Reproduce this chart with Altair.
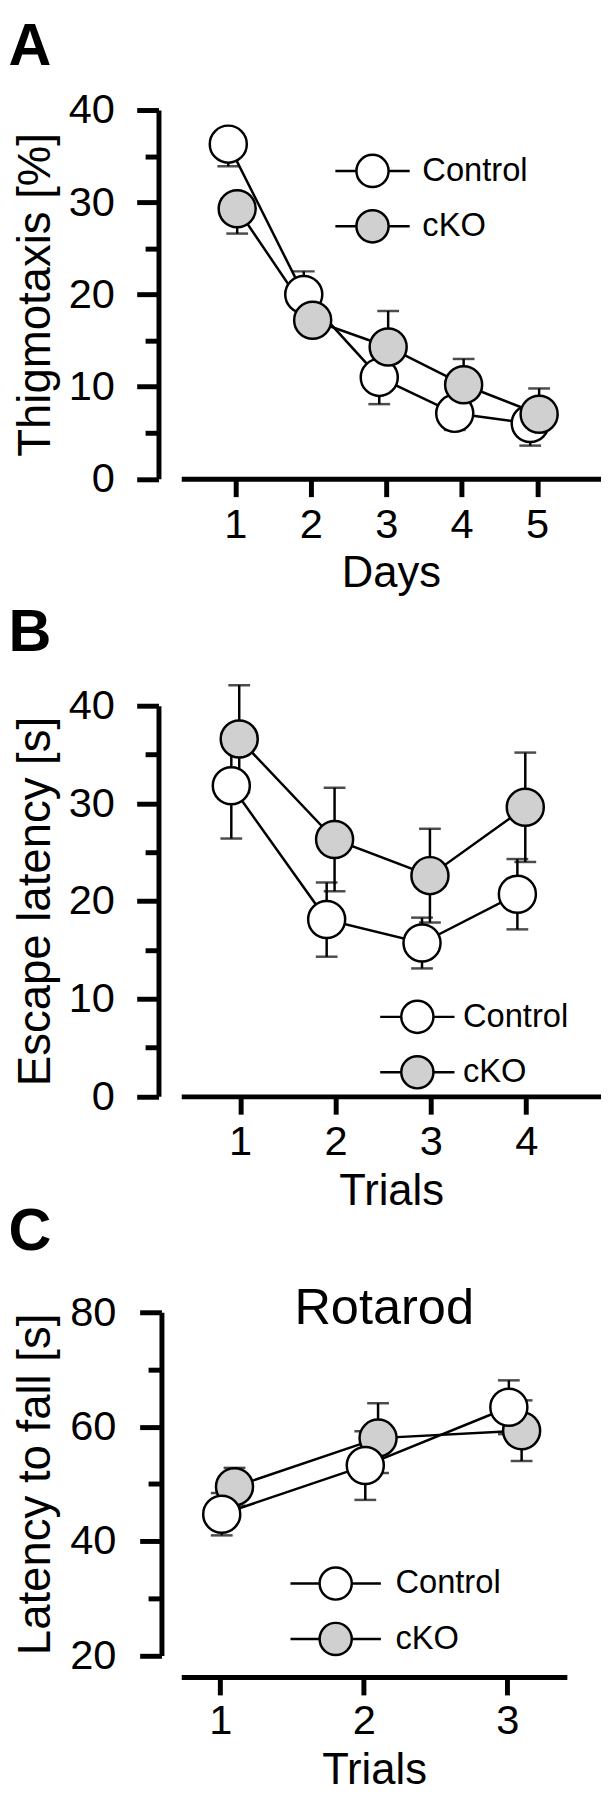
import altair as alt
import pandas as pd

FONT = "Liberation Sans"
GROUPS = ["Control", "cKO"]
FILLS = ["#ffffff", "#d0d0d0"]

# ---- Panel A: thigmotaxis over days ----
A_DAYS = [1, 2, 3, 4, 5]
A_CONTROL = [36.3, 20.0, 11.0, 7.1, 6.0]
A_CKO = [29.3, 17.2, 14.3, 10.2, 7.0]
A_CONTROL_SE = [2.4, 2.5, 2.9, 1.8, 2.4]
A_CKO_SE = [2.7, 1.6, 3.9, 2.8, 2.8]
A_CONTROL_SIDE = [-1, 1, -1, -1, -1]   # error bar drawn below (-1) / above (1)
A_CKO_SIDE = [-1, -1, 1, 1, 1]

# ---- Panel B: escape latency over trials ----
B_TRIALS = [1, 2, 3, 4]
B_CONTROL = [31.8, 18.1, 15.7, 20.7]
B_CKO = [36.6, 26.3, 22.6, 29.6]
B_CONTROL_SE = [5.4, 3.8, 2.6, 3.6]
B_CKO_SE = [5.5, 5.3, 4.8, 5.6]

# ---- Panel C: rotarod ----
C_TRIALS = [1, 2, 3]
C_CONTROL = [44.7, 53.2, 63.4]
C_CKO = [49.5, 58.0, 59.3]
C_CONTROL_SE = [3.7, 6.0, 4.7]
C_CKO_SE = [3.3, 6.1, 5.3]


def frames(xs, series, dodge, draw_order):
    pts, caps = [], []
    for g in draw_order:
        mean, se, side = series[g]
        for x, m, s, d in zip(xs, mean, se, side):
            xp = x + dodge[g]
            lo = m - s if d <= 0 else m
            hi = m + s if d >= 0 else m
            pts.append({"group": g, "x": xp, "y": m, "lo": lo, "hi": hi})
            if d <= 0:
                caps.append({"group": g, "x": xp, "y": lo})
            if d >= 0:
                caps.append({"group": g, "x": xp, "y": hi})
    return pd.DataFrame(pts), pd.DataFrame(caps)


def legend_path(half):
    return f"M{-half},0L-1,0M1,0L{half},0M-1,0A1,1,0,1,1,1,0A1,1,0,1,1,-1,0Z"


def panel(pts, caps, *, width, height, xdom, xticks, xtitle, xlp, xtp,
          ydom, yrange, yticks, major, ytitle, yoff, ylp, ytp,
          leg, letter, letter_y, headline=None):
    xs = alt.Scale(domain=xdom, nice=False, zero=False)
    ys = alt.Scale(domain=ydom, range=yrange, nice=False, zero=False)
    xaxis = alt.Axis(values=xticks, title=xtitle, tickSize=18,
                     labelBaseline="alphabetic", labelPadding=xlp,
                     labelFontSize=42, titleFontSize=44,
                     titleBaseline="alphabetic", titlePadding=xtp,
                     format="d", labelFlush=False, labelOverlap=False)
    yaxis = alt.Axis(values=yticks, title=ytitle, offset=yoff,
                     tickSize={"condition": {"test": f"datum.value % {major} === 0",
                                             "value": 22}, "value": 13.5},
                     labelExpr=f"datum.value % {major} === 0 ? datum.label : ''",
                     labelPadding=ylp, labelFontSize=42, titleFontSize=46,
                     titleBaseline="alphabetic", titlePadding=ytp,
                     labelOverlap=False, labelFlush=False, format="d")
    X = alt.X("x:Q", scale=xs, axis=xaxis)

    rules = alt.Chart(pts).mark_rule(color="black", strokeWidth=2.5).encode(
        x=X, y=alt.Y("lo:Q", scale=ys, axis=yaxis), y2="hi:Q")
    capm = alt.Chart(caps).mark_tick(orient="horizontal", color="black",
                                     thickness=2.5, size=22).encode(
        x=X, y=alt.Y("y:Q", scale=ys, axis=yaxis))
    lines = alt.Chart(pts).mark_line(color="black", strokeWidth=2.5).encode(
        x=X, y=alt.Y("y:Q", scale=ys, axis=yaxis), detail="group:N")
    points = alt.Chart(pts).mark_point(
        filled=True, shape="circle", size=1400, stroke="black",
        strokeWidth=2.5, opacity=1).encode(
        x=X, y=alt.Y("y:Q", scale=ys, axis=yaxis),
        fill=alt.Fill("group:N", scale=alt.Scale(domain=GROUPS, range=FILLS),
                      legend=alt.Legend(
                          title=None, orient="none", legendX=leg["x"],
                          legendY=leg["y"], symbolType=legend_path(leg["half"]),
                          symbolSize=1056, symbolStrokeColor="black",
                          symbolStrokeWidth=2.5, symbolOpacity=1,
                          labelFont=FONT, labelFontSize=33, labelColor="black",
                          labelOffset=leg["offset"], rowPadding=13, padding=0)))
    letter_text = alt.Chart(pd.DataFrame({"t": [letter]})).mark_text(
        align="left", baseline="alphabetic", font=FONT, fontSize=60,
        fontWeight="bold", color="black").encode(
        x=alt.value(-174.5), y=alt.value(letter_y), text="t:N")
    layers = [rules, capm, lines, points, letter_text]
    if headline is not None:
        layers.append(alt.Chart(pd.DataFrame({"t": [headline]})).mark_text(
            align="center", baseline="alphabetic", font=FONT, fontSize=51,
            color="black").encode(x=alt.value(205), y=alt.value(11.5), text="t:N"))
    return alt.layer(*layers).properties(width=width, height=height)


pa_pts, pa_caps = frames(
    A_DAYS,
    {"Control": (A_CONTROL, A_CONTROL_SE, A_CONTROL_SIDE),
     "cKO": (A_CKO, A_CKO_SE, A_CKO_SIDE)},
    {"Control": -0.092, "cKO": 0.026}, ["Control", "cKO"])
pb_pts, pb_caps = frames(
    B_TRIALS,
    {"Control": (B_CONTROL, B_CONTROL_SE, [0] * 4),
     "cKO": (B_CKO, B_CKO_SE, [0] * 4)},
    {"Control": -0.093, "cKO": -0.01}, ["Control", "cKO"])
pc_pts, pc_caps = frames(
    C_TRIALS,
    {"Control": (C_CONTROL, C_CONTROL_SE, [0] * 3),
     "cKO": (C_CKO, C_CKO_SE, [0] * 3)},
    {"Control": 0.01, "cKO": 0.099}, ["cKO", "Control"])

pa = panel(pa_pts, pa_caps, width=423.5, height=372.5, xdom=[0.285, 5.839],
           xticks=A_DAYS, xtitle="Days", xlp=41, xtp=42,
           ydom=[0, 40], yrange=[372.5, 0], yticks=list(range(0, 41, 5)),
           major=10, ytitle="Thigmotaxis [%]", yoff=23, ylp=22.5, ytp=19,
           leg={"x": 175.7, "y": 44, "half": 2.31, "offset": 32.8},
           letter="A", letter_y=-45.5)
pb = panel(pb_pts, pb_caps, width=424, height=405.6, xdom=[0.382, 4.784],
           xticks=B_TRIALS, xtitle="Trials", xlp=41, xtp=42,
           ydom=[0, 40], yrange=[405.6, 11], yticks=list(range(0, 41, 5)),
           major=10, ytitle="Escape latency [s]", yoff=23, ylp=22.5, ytp=19,
           leg={"x": 221, "y": 307.8, "half": 2.31, "offset": 28.5},
           letter="B", letter_y=-44)
pc = panel(pc_pts, pc_caps, width=389.5, height=368.5, xdom=[0.728, 3.414],
           xticks=C_TRIALS, xtitle="Trials", xlp=39, xtp=42,
           ydom=[20, 80], yrange=[346.7, 0], yticks=list(range(20, 81, 10)),
           major=20, ytitle="Latency to fall [s]", yoff=20, ylp=24, ytp=20,
           leg={"x": 138.5, "y": 256.5, "half": 2.81, "offset": 42.8},
           letter="C", letter_y=-63, headline="Rotarod")

chart = alt.vconcat(pa, pb, pc, spacing=217.7, bounds="flush").resolve_scale(
    x="independent", y="independent", fill="independent"
).resolve_legend(fill="independent").properties(
    padding={"left": 0, "top": 0, "right": 0, "bottom": 0}
).configure_view(stroke=None).configure_axis(
    grid=False, domainColor="black", tickColor="black", labelColor="black",
    titleColor="black", labelFont=FONT, titleFont=FONT,
    titleFontWeight="normal", domainWidth=5, tickWidth=5)

chart.save("out.html", embed_options={"renderer": "svg", "actions": False})
